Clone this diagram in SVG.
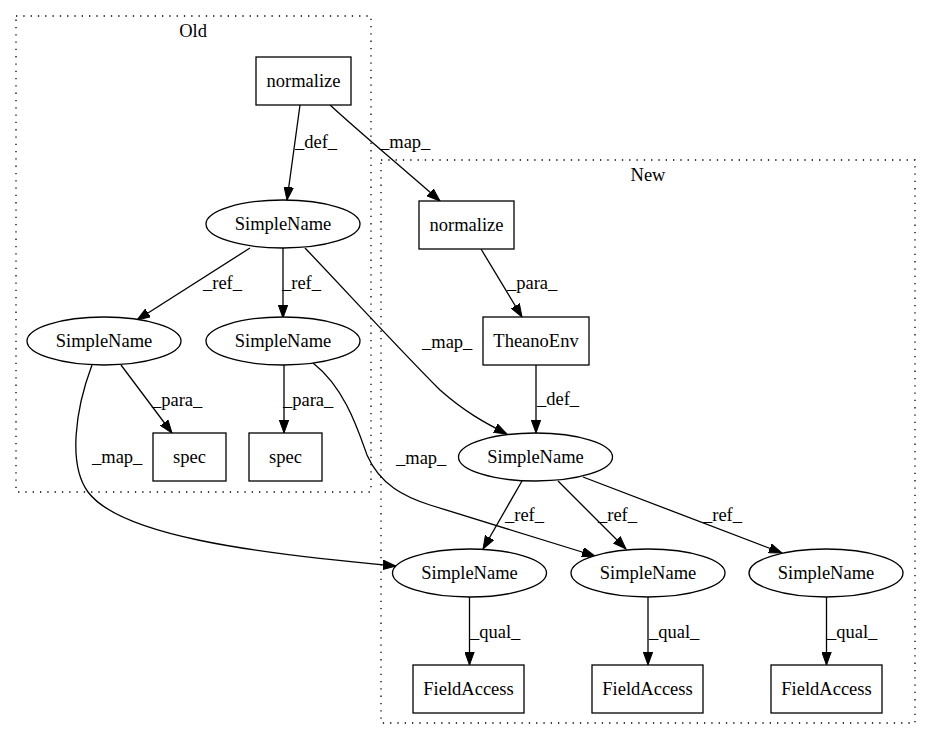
<svg xmlns="http://www.w3.org/2000/svg" width="931" height="740" viewBox="0 0 931 740">
<style>
text{font-family:"Liberation Serif","Times New Roman",serif;font-size:18.5px;fill:#000}
.n{text-anchor:middle}
.shape{fill:#fff;stroke:#000;stroke-width:1.3}
.cl{fill:none;stroke:#000;stroke-width:1.3;stroke-dasharray:1.3,6}
.e{fill:none;stroke:#000;stroke-width:1.3;marker-end:url(#ah)}
</style>
<defs>
<marker id="ah" markerUnits="userSpaceOnUse" markerWidth="14" markerHeight="10" refX="13" refY="5" orient="auto">
<path d="M0,0.3 L13,5 L0,9.7 Z" fill="#000" stroke="#000" stroke-width="1"/>
</marker>
</defs>
<rect width="931" height="740" fill="#fff"/>
<g id="cluster_old">
<rect class="cl" x="16" y="16" width="355" height="476"/>
<text class="n" x="193" y="37">Old</text>
</g>
<g id="cluster_new">
<rect class="cl" x="381" y="160" width="534" height="563"/>
<text class="n" x="648" y="181">New</text>
</g>
<g id="connectors">
<path class="e" d="M300,105 C296,135 291,170 287,200"/>
<text x="295" y="148">_def_</text>
<path class="e" d="M330,105 C365,137 405,170 440,201"/>
<text x="380" y="148">_map_</text>
<path class="e" d="M250,248 L137,320"/>
<text x="203" y="289">_ref_</text>
<path class="e" d="M283,248 L283,318"/>
<text x="282" y="289">_ref_</text>
<path class="e" d="M305,248 C345,290 400,350 440,390 C465,412 485,423 507,434"/>
<text x="422" y="348">_map_</text>
<path class="e" d="M121,365 L172,433"/>
<text x="152" y="406">_para_</text>
<path class="e" d="M284,365 L284,433"/>
<text x="283" y="406">_para_</text>
<path class="e" d="M92,365 C75,410 68,465 88,492 C120,535 250,553 396,566"/>
<text x="92" y="463">_map_</text>
<path class="e" d="M313,363 C345,388 358,430 367,455 C380,485 405,497 430,505 L595,556"/>
<text x="396" y="464">_map_</text>
<path class="e" d="M481,249 L522,317"/>
<text x="507" y="289">_para_</text>
<path class="e" d="M536,365 L536,433"/>
<text x="537" y="405">_def_</text>
<path class="e" d="M522,481 L483,549"/>
<text x="505" y="521">_ref_</text>
<path class="e" d="M558,481 L626,549"/>
<text x="598" y="521">_ref_</text>
<path class="e" d="M583,477 L782,553"/>
<text x="703" y="521">_ref_</text>
<path class="e" d="M469.5,597 L469.5,665"/>
<text x="470" y="638">_qual_</text>
<path class="e" d="M648,597 L648,665"/>
<text x="649" y="638">_qual_</text>
<path class="e" d="M826.5,597 L826.5,665"/>
<text x="827" y="638">_qual_</text>
</g>
<g id="old_normalize"><rect class="shape" x="256" y="57" width="95" height="48"/><text class="n" x="303.5" y="87">normalize</text></g>
<g id="old_sn_top"><ellipse class="shape" cx="283" cy="224" rx="77" ry="24"/><text class="n" x="283" y="230">SimpleName</text></g>
<g id="old_sn_left"><ellipse class="shape" cx="104" cy="341" rx="77" ry="24"/><text class="n" x="104" y="347">SimpleName</text></g>
<g id="old_sn_right"><ellipse class="shape" cx="283" cy="341" rx="77" ry="24"/><text class="n" x="283" y="347">SimpleName</text></g>
<g id="spec1"><rect class="shape" x="153" y="433" width="73" height="48"/><text class="n" x="189.5" y="463">spec</text></g>
<g id="spec2"><rect class="shape" x="249" y="433" width="73" height="48"/><text class="n" x="285.5" y="463">spec</text></g>
<g id="new_normalize"><rect class="shape" x="419" y="201" width="95" height="48"/><text class="n" x="466.5" y="231">normalize</text></g>
<g id="theanoenv"><rect class="shape" x="483" y="317" width="106" height="48"/><text class="n" x="536" y="347">TheanoEnv</text></g>
<g id="new_sn_mid"><ellipse class="shape" cx="535.5" cy="457" rx="77" ry="24"/><text class="n" x="535.5" y="463">SimpleName</text></g>
<g id="new_sn_1"><ellipse class="shape" cx="469.5" cy="573" rx="77" ry="24"/><text class="n" x="469.5" y="579">SimpleName</text></g>
<g id="new_sn_2"><ellipse class="shape" cx="648" cy="573" rx="77" ry="24"/><text class="n" x="648" y="579">SimpleName</text></g>
<g id="new_sn_3"><ellipse class="shape" cx="826" cy="573" rx="77" ry="24"/><text class="n" x="826" y="579">SimpleName</text></g>
<g id="fa1"><rect class="shape" x="413" y="665" width="111" height="48"/><text class="n" x="468.5" y="695">FieldAccess</text></g>
<g id="fa2"><rect class="shape" x="592" y="665" width="111" height="48"/><text class="n" x="647.5" y="695">FieldAccess</text></g>
<g id="fa3"><rect class="shape" x="771" y="665" width="111" height="48"/><text class="n" x="826.5" y="695">FieldAccess</text></g>
</svg>
